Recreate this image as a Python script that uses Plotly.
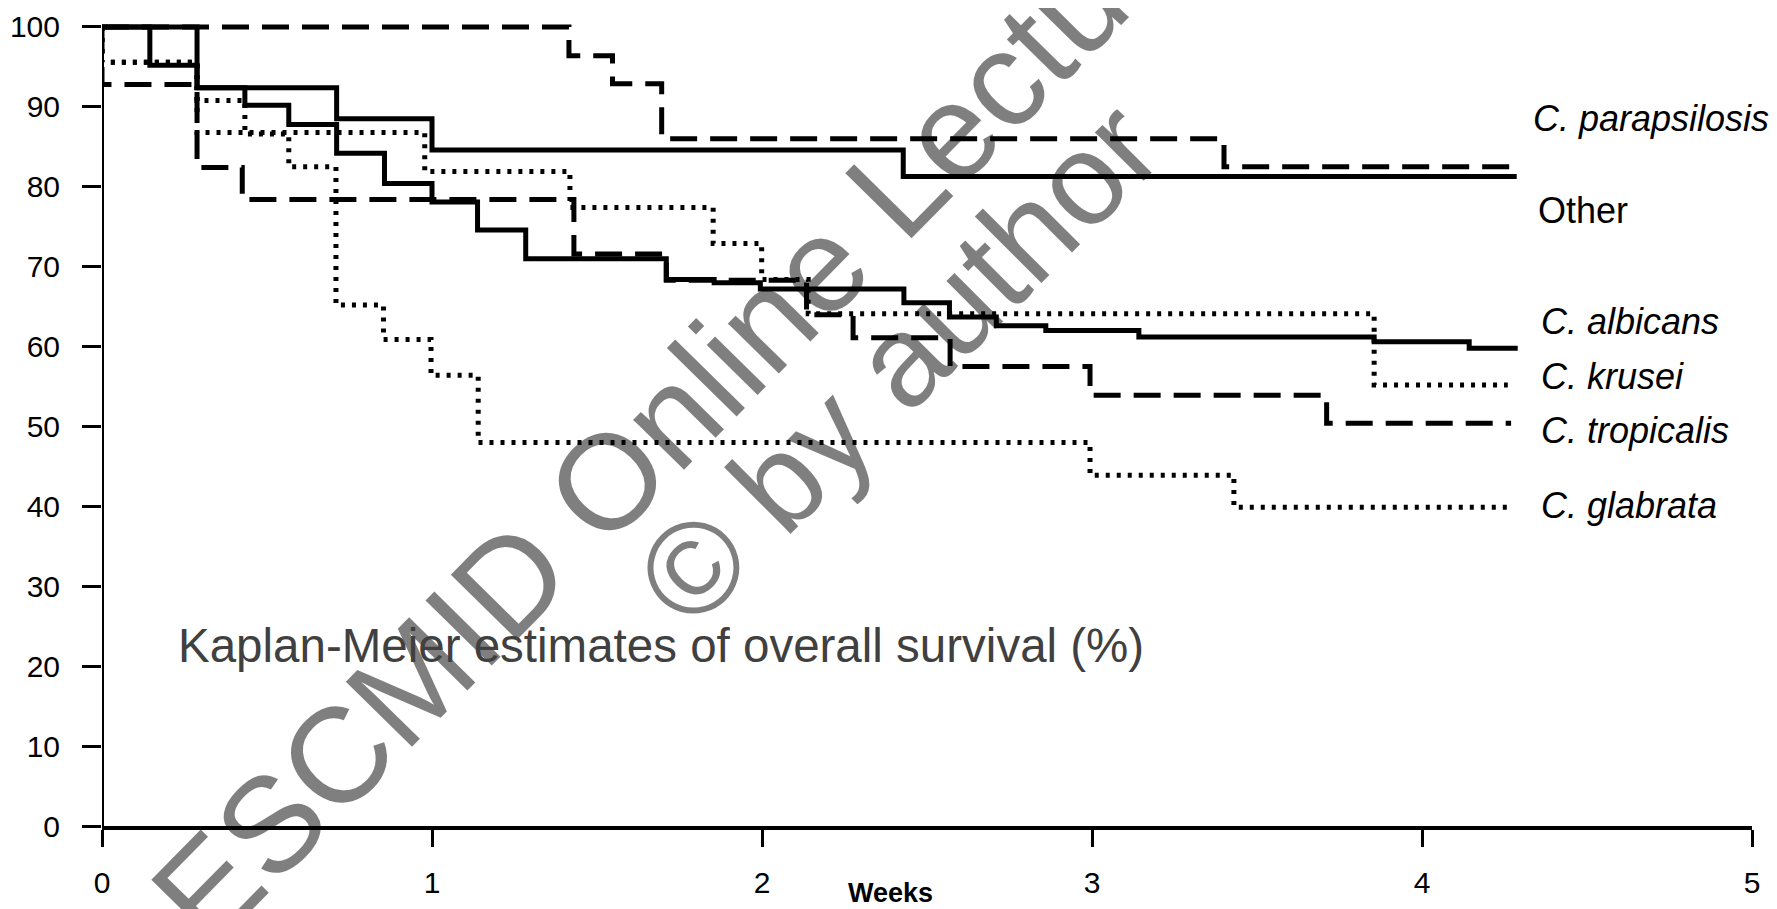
import plotly.graph_objects as go

# ---------------- data (weeks, survival %) ----------------
weeks_parapsilosis = [0, 1.415, 1.547, 1.696, 3.40, 4.267]
surv_parapsilosis = [100, 96.4, 92.9, 86.0, 82.5, 82.5]

weeks_other = [0, 0.145, 0.288, 0.711, 1.0, 2.428, 4.287]
surv_other = [100, 95.2, 92.4, 88.5, 84.6, 81.3, 81.3]

weeks_albicans = [0, 0.288, 0.433, 0.566, 0.711, 0.856, 1.0, 1.138, 1.284, 1.71,
                  1.855, 1.995, 2.43, 2.568, 2.71, 2.86, 3.142, 3.855, 4.143, 4.29]
surv_albicans = [100, 92.4, 90.2, 87.8, 84.2, 80.4, 78.1, 74.6, 71.0, 68.4,
                 68.0, 67.2, 65.5, 63.7, 62.6, 62.0, 61.2, 60.6, 59.8, 59.8]

weeks_krusei = [0, 0, 0.288, 0.978, 1.418, 1.852, 1.999, 2.14, 3.855, 4.26]
surv_krusei = [100, 95.6, 86.8, 81.9, 77.4, 72.9, 68.4, 64.1, 55.2, 55.2]

weeks_tropicalis = [0, 0, 0.288, 0.425, 1.43, 1.71, 2.135, 2.276, 2.57, 2.994, 3.711, 4.27]
surv_tropicalis = [100, 92.8, 82.4, 78.4, 71.6, 68.3, 64.0, 61.1, 57.5, 53.9, 50.4, 50.4]

weeks_glabrata = [0, 0, 0.288, 0.433, 0.566, 0.709, 0.853, 0.997, 1.14, 2.994, 3.43, 4.27]
surv_glabrata = [100, 95.6, 90.8, 86.6, 82.5, 65.2, 60.9, 56.4, 48.0, 43.9, 39.9, 39.9]

series_names = ["C. parapsilosis", "Other", "C. albicans", "C. krusei", "C. tropicalis", "C. glabrata"]
label_y = [88.5, 77.0, 63.1, 56.2, 49.5, 40.1]
label_italic = [True, False, True, True, True, True]

x_ticks = [0, 1, 2, 3, 4, 5]
y_ticks = [0, 10, 20, 30, 40, 50, 60, 70, 80, 90, 100]

# ---------------- styles ----------------
W = 5
DASH = "27px,13px"
DOT = "4px,7px"
styles = {
    "C. parapsilosis": dict(dash=DASH),
    "Other": dict(dash="solid"),
    "C. albicans": dict(dash="solid"),
    "C. krusei": dict(dash=DOT),
    "C. tropicalis": dict(dash=DASH),
    "C. glabrata": dict(dash=DOT),
}
data_map = {
    "C. parapsilosis": (weeks_parapsilosis, surv_parapsilosis),
    "Other": (weeks_other, surv_other),
    "C. albicans": (weeks_albicans, surv_albicans),
    "C. krusei": (weeks_krusei, surv_krusei),
    "C. tropicalis": (weeks_tropicalis, surv_tropicalis),
    "C. glabrata": (weeks_glabrata, surv_glabrata),
}

FONT = "Arial, Liberation Sans, Helvetica, sans-serif"

fig = go.Figure()
for name in series_names:
    xs, ys = data_map[name]
    fig.add_trace(go.Scatter(
        x=xs, y=ys, mode="lines", name=name, line_shape="hv",
        line=dict(color="black", width=W, dash=styles[name]["dash"]),
        showlegend=False, hoverinfo="skip",
    ))

annotations = []
# watermark (semi-transparent black -> gray on white, stays black over lines)
annotations.append(dict(
    x=2.235, y=72.6, xref="x", yref="y", text="ESCMID Online Lecture Library",
    showarrow=False, textangle=-45.5, xanchor="center", yanchor="middle",
    font=dict(family=FONT, size=135, color="rgba(0,0,0,0.5)"),
))
annotations.append(dict(
    x=2.412, y=57.9, xref="x", yref="y", text="© by author",
    showarrow=False, textangle=-45, xanchor="center", yanchor="middle",
    font=dict(family=FONT, size=130, color="rgba(0,0,0,0.5)"),
))

# species labels
label_x = [4.330, 4.345, 4.355, 4.355, 4.355, 4.355]
for name, ly, lx, it in zip(series_names, label_y, label_x, label_italic):
    annotations.append(dict(
        x=lx, y=ly, xref="x", yref="y",
        text=f"<i>{name}</i>" if it else name,
        showarrow=False, xanchor="left", yanchor="middle",
        font=dict(family=FONT, size=36, color="black"),
    ))

# inner title
annotations.append(dict(
    x=0.224, y=22.6, xref="x", yref="y",
    text="Kaplan-Meier estimates of overall survival (%)",
    showarrow=False, xanchor="left", yanchor="middle",
    font=dict(family=FONT, size=47.5, color="#404040"),
))
# x axis title
annotations.append(dict(
    x=2.39, y=-0.082, xref="x", yref="paper", text="<b>Weeks</b>",
    showarrow=False, xanchor="center", yanchor="middle",
    font=dict(family=FONT, size=27, color="black"),
))

fig.update_layout(
    template="none",
    width=1777, height=909,
    margin=dict(l=94, r=33, t=3, b=91, autoexpand=False),
    paper_bgcolor="white", plot_bgcolor="white",
    annotations=annotations,
    shapes=[dict(type="line", xref="x", yref="y", x0=0, x1=0, y0=0, y1=100,
                 line=dict(color="black", width=4))],
    xaxis=dict(range=[0, 5], tickvals=x_ticks, ticktext=[str(v) for v in x_ticks],
               ticks="outside", ticklen=17, tickwidth=3, tickcolor="black",
               showline=True, linecolor="black", linewidth=3.5,
               showgrid=False, zeroline=False, ticklabelstandoff=10,
               tickfont=dict(family=FONT, size=30, color="black")),
    yaxis=dict(range=[0, 102], tickvals=y_ticks, ticktext=[str(v) for v in y_ticks],
               ticks="outside", ticklen=19, tickwidth=3, tickcolor="black",
               showline=False, showgrid=False, zeroline=False, ticklabelstandoff=16,
               tickfont=dict(family=FONT, size=30, color="black")),
)

fig.write_html("out.html")
